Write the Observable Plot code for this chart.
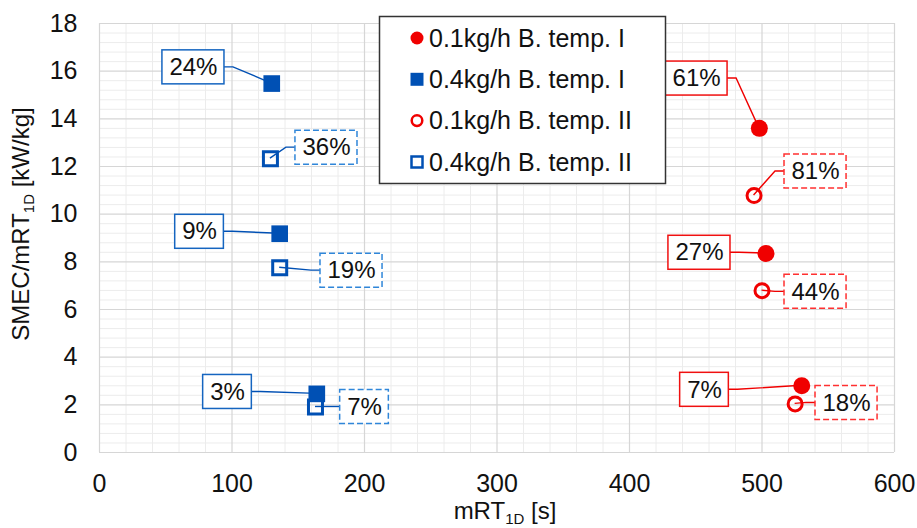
<!DOCTYPE html>
<html><head><meta charset="utf-8">
<script src="https://cdn.jsdelivr.net/npm/d3@7"></script>
<script src="https://cdn.jsdelivr.net/npm/@observablehq/plot@0.6"></script>
<style>
body{margin:0;background:#fff;}
svg{font-family:Arial,"Liberation Sans",sans-serif;}
</style>
</head><body><div id="chart"></div>
<script>
// ---- data ----
const seriesNames = ["0.1kg/h B. temp. I", "0.4kg/h B. temp. I", "0.1kg/h B. temp. II", "0.4kg/h B. temp. II"];
const seriesColors = ["#f00000", "#0050b4", "#f00000", "#0050b4"];
const boxColors = ["#f01010", "#1565c0", "#ff3030", "#2f86d9"];
const seriesSymbols = ["circle", "square", "circle", "square"];
const seriesFilled = [true, true, false, false];

const xS1 = [498, 503, 530];   const yS1 = [13.6, 8.35, 2.8];   const labS1 = ["61%", "27%", "7%"];
const xS2 = [130, 136, 164];   const yS2 = [15.48, 9.18, 2.46]; const labS2 = ["24%", "9%", "3%"];
const xS3 = [494, 500, 525];   const yS3 = [10.78, 6.79, 2.04]; const labS3 = ["81%", "44%", "18%"];
const xS4 = [129, 136, 163];   const yS4 = [12.33, 7.75, 1.91]; const labS4 = ["36%", "19%", "7%"];
// label anchor positions (data units)
const lxS1 = [450.6, 452.8, 456.6]; const lyS1 = [15.69, 8.38, 2.63];
const lxS2 = [70.9, 75.5, 96.6];    const lyS2 = [16.16, 9.26, 2.54];
const lxS3 = [540.4, 540.4, 563.8]; const lyS3 = [11.79, 6.74, 2.08];
const lxS4 = [171.3, 190.2, 200];   const lyS4 = [12.79, 7.63, 1.91];

const xTicks = [0, 100, 200, 300, 400, 500, 600];
const yTicks = [0, 2, 4, 6, 8, 10, 12, 14, 16, 18];
const xTitle = ["mRT", "1D", " [s]"];
const yTitle = ["SMEC/mRT", "1D", " [kW/kg]"];

// ---- build table ----
const xs = [xS1, xS2, xS3, xS4], ys = [yS1, yS2, yS3, yS4], labs = [labS1, labS2, labS3, labS4];
const lxs = [lxS1, lxS2, lxS3, lxS4], lys = [lyS1, lyS2, lyS3, lyS4];
const points = [];
xs.forEach((arr, s) => arr.forEach((x, i) => points.push({
  s, x, y: ys[s][i], label: labs[s][i], lx: lxs[s][i], ly: lys[s][i]
})));

const xMinor = d3.range(0, 31).map(i => i * 20).filter(v => v % 100 !== 0);
const yMinor = d3.range(0, 46).map(i => i * 0.4).filter((v, i) => i % 5 !== 0);

const W = 917, H = 528;
const marks = [
  Plot.ruleX(xMinor, {stroke: "#ececec", strokeWidth: 1}),
  Plot.ruleY(yMinor, {stroke: "#ececec", strokeWidth: 1}),
  Plot.ruleX(xTicks, {stroke: "#d6d6d6", strokeWidth: 1.2}),
  Plot.ruleY(yTicks, {stroke: "#d6d6d6", strokeWidth: 1.2})
];
for (let s = 0; s < 4; s++) {
  const data = points.filter(p => p.s === s);
  const filled = seriesFilled[s];
  const sq = seriesSymbols[s] === "square";
  marks.push(Plot.dot(data, {
    x: "x", y: "y", symbol: seriesSymbols[s],
    r: filled ? (sq ? 9.4 : 8.5) : (sq ? 7.9 : 7),
    fill: filled ? seriesColors[s] : "none",
    stroke: filled ? "none" : seriesColors[s],
    strokeWidth: filled ? 0 : 3
  }));
}
marks.push(Plot.text(points, {x: "lx", y: "ly", text: "label", fontSize: 24, fill: "#111"}));

const plot = Plot.plot({
  width: W, height: H,
  marginLeft: 99, marginRight: 23, marginTop: 23, marginBottom: 76,
  style: {fontSize: "25px", fontFamily: "Arial, 'Liberation Sans', sans-serif", background: "#fff", color: "#111"},
  x: {domain: [0, 600], ticks: xTicks, tickSize: 0, tickPadding: 22, label: null},
  y: {domain: [0, 18], ticks: yTicks, tickSize: 0, tickPadding: 22, label: null},
  marks
});
document.getElementById("chart").appendChild(plot);

// scales from Plot
const xsc = plot.scale("x"), ysc = plot.scale("y");
const X = d3.scaleLinear(xsc.domain, xsc.range), Y = d3.scaleLinear(ysc.domain, ysc.range);
const svg = d3.select(plot);
const ns = "http://www.w3.org/2000/svg";

// locate mark groups
const dotGroups = plot.querySelectorAll('g[aria-label="dot"]');
const textGroups = plot.querySelectorAll('g[aria-label="text"]');
const firstDots = dotGroups[0] || null;
const labG = textGroups[textGroups.length - 1];
const leadG = document.createElementNS(ns, "g");
plot.insertBefore(leadG, firstDots);
const boxG = document.createElementNS(ns, "g");
labG.parentNode.insertBefore(boxG, labG);
const texts = labG.querySelectorAll("text");
points.forEach((p, i) => {
  const w = texts[i].getBBox().width;
  const cx = X(p.lx), cy = Y(p.ly);
  const x0 = cx - w / 2 - 7, x1 = cx + w / 2 + 7;
  const temp2 = p.s >= 2;
  d3.select(boxG).append("rect")
    .attr("x", x0).attr("y", cy - 17).attr("width", x1 - x0).attr("height", 34)
    .attr("fill", "#fff").attr("stroke", boxColors[p.s]).attr("stroke-width", 1.5)
    .attr("stroke-dasharray", temp2 ? "6,3" : null);
  const px = X(p.x), py = Y(p.y);
  const right = px > cx;
  const ex = right ? x1 : x0, stub = right ? ex + 9 : ex - 9;
  d3.select(leadG).append("path")
    .attr("d", `M${ex},${cy}L${stub},${cy}L${px},${py}`)
    .attr("fill", "none").attr("stroke", seriesColors[p.s]).attr("stroke-width", 1.4);
});

// axis titles with subscripts
function titled(g, parts) {
  const t = g.append("text").attr("text-anchor", "middle").attr("fill", "#111").attr("font-size", 24);
  t.append("tspan").text(parts[0]);
  t.append("tspan").attr("font-size", 15).attr("dy", 5).text(parts[1]);
  t.append("tspan").attr("dy", -5).text(parts[2]);
  return t;
}
titled(svg.append("g").attr("transform", "translate(505,519)"), xTitle);
titled(svg.append("g").attr("transform", "translate(29,224) rotate(-90)"), yTitle);

// legend
const lg = svg.append("g");
lg.append("rect").attr("x", 379.5).attr("y", 16.5).attr("width", 286).attr("height", 167)
  .attr("fill", "#fff").attr("stroke", "#333").attr("stroke-width", 1.5);
seriesNames.forEach((name, s) => {
  const cy = 38 + s * 41.3;
  const sq = seriesSymbols[s] === "square";
  const filled = seriesFilled[s];
  let size;
  if (filled) size = sq ? 13 * 13 : Math.PI * 6.5 * 6.5;
  else size = sq ? 11 * 11 : Math.PI * 5.3 * 5.3;
  lg.append("path")
    .attr("transform", `translate(417,${cy})`)
    .attr("d", d3.symbol(sq ? d3.symbolSquare : d3.symbolCircle, size)())
    .attr("fill", filled ? seriesColors[s] : "none")
    .attr("stroke", filled ? "none" : seriesColors[s])
    .attr("stroke-width", 2.5);
  lg.append("text").attr("x", 429).attr("y", cy).attr("dy", "0.35em")
    .attr("text-anchor", "start")
    .attr("font-size", 25).attr("fill", "#111").text(name);
});
</script>
</body></html>
